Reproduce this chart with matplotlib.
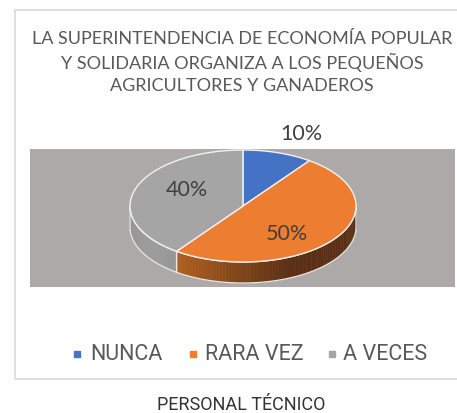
import numpy as np
import matplotlib
matplotlib.use("Agg")
import matplotlib.pyplot as plt
from matplotlib.patches import Polygon, Rectangle
from matplotlib.colors import to_rgb

# ---- data ----
categories = ["NUNCA", "RARA VEZ", "A VECES"]
values = [10, 50, 40]
pct_labels = ["10%", "50%", "40%"]
title_lines = ["LA SUPERINTENDENCIA DE ECONOMÍA POPULAR",
               "Y SOLIDARIA ORGANIZA A LOS PEQUEÑOS",
               "AGRICULTORES Y GANADEROS"]
caption = "PERSONAL TÉCNICO"

top_colors = ["#4472C4", "#ED7D31", "#A5A5A5"]
side_dark = ["#2E4E88", "#5A2F14", "#8E8E8E"]
side_light = ["#4A6FB0", "#B0601F", "#9C9C9C"]

W, H = 457, 414
fig = plt.figure(figsize=(W / 100, H / 100), dpi=100)
ax = fig.add_axes([0, 0, 1, 1])
ax.set_xlim(0, W)
ax.set_ylim(H, 0)
ax.axis("off")

# chart frame and plot area
ax.add_patch(Rectangle((15, 11), 460, 369, facecolor="white", edgecolor="#D9D9D9", lw=1.2, zorder=0))
ax.add_patch(Rectangle((30, 150), 425, 138, facecolor="#ADA9A8", edgecolor="none", zorder=1))

# pie geometry
cx, cy, rx, ry, depth = 243, 207, 113, 56, 21

def pt(a, dy=0.0):
    r = np.radians(a)
    return cx + rx * np.cos(r), cy - ry * np.sin(r) + dy

total = float(sum(values))
angles = []
start = 90.0
for v in values:
    span = 360.0 * v / total
    angles.append((start - span, start))
    start -= span

def mix(c1, c2, t):
    a, b = np.array(to_rgb(c1)), np.array(to_rgb(c2))
    return tuple(a + (b - a) * t)

# side walls (front half)
for i, (lo, hi) in enumerate(angles):
    for k in range(-2, 2):
        flo, fhi = 180 + 360 * k, 360 + 360 * k
        a0, a1 = max(lo, flo), min(hi, fhi)
        if a1 <= a0:
            continue
        ts = np.linspace(a0, a1, 80)
        for j in range(len(ts) - 1):
            p1, p2 = pt(ts[j]), pt(ts[j + 1])
            q1, q2 = pt(ts[j], depth), pt(ts[j + 1], depth)
            xm = (p1[0] + p2[0]) / 2
            t = np.clip((xm - 177) / (290 - 177), 0, 1) if i == 1 else np.clip((xm - 130) / 47, 0, 1)
            if i == 1:
                col = mix(side_light[i], side_dark[i], t)
            else:
                col = mix(side_dark[i], side_light[i], 0.5 + 0.5 * np.sin(np.pi * t))
            ax.add_patch(Polygon([p1, p2, q2, q1], closed=True, facecolor=col,
                                 edgecolor=col, lw=0.3, zorder=2))
        top = [pt(a) for a in ts]
        bot = [pt(a, depth) for a in ts[::-1]]
        ax.add_patch(Polygon(top + bot, closed=True, facecolor="none",
                             edgecolor="#E8E8E8", lw=0.9, zorder=3))

# top faces
for i, (lo, hi) in enumerate(angles):
    ts = np.linspace(hi, lo, 200)
    poly = [(cx, cy)] + [pt(a) for a in ts]
    ax.add_patch(Polygon(poly, closed=True, facecolor=top_colors[i],
                         edgecolor="#F2F2F2", lw=1.0, zorder=4))

# data labels
lab_pos = [(301, 134), (287, 234.5), (187, 190)]
for (x, y), s in zip(lab_pos, pct_labels):
    ax.text(x, y, s, ha="center", va="center", fontsize=15.5, color="#404040",
            family=["Lato", "DejaVu Sans"], zorder=5)

# title
for y, s in zip([39.5, 62.5, 86], title_lines):
    ax.text(242, y, s, ha="center", va="center", fontsize=13, color="#595959",
            family=["Lato", "DejaVu Sans"])

# legend (manual)
mark_x = [77, 193, 332]
text_x = [90, 205, 343]
for mx, tx, c, s in zip(mark_x, text_x, top_colors, categories):
    ax.plot([mx], [355], marker="s", markersize=4.5, color=c, linestyle="None", zorder=5)
    ax.text(tx, 355, s, ha="left", va="center", fontsize=15.5, color="#595959",
            family=["Roboto", "DejaVu Sans"])

# caption
ax.text(241, 405, caption, ha="center", va="center", fontsize=13, color="#333333",
        family=["Liberation Sans Narrow", "Roboto", "DejaVu Sans"])

fig.savefig("out.png", dpi=100)
